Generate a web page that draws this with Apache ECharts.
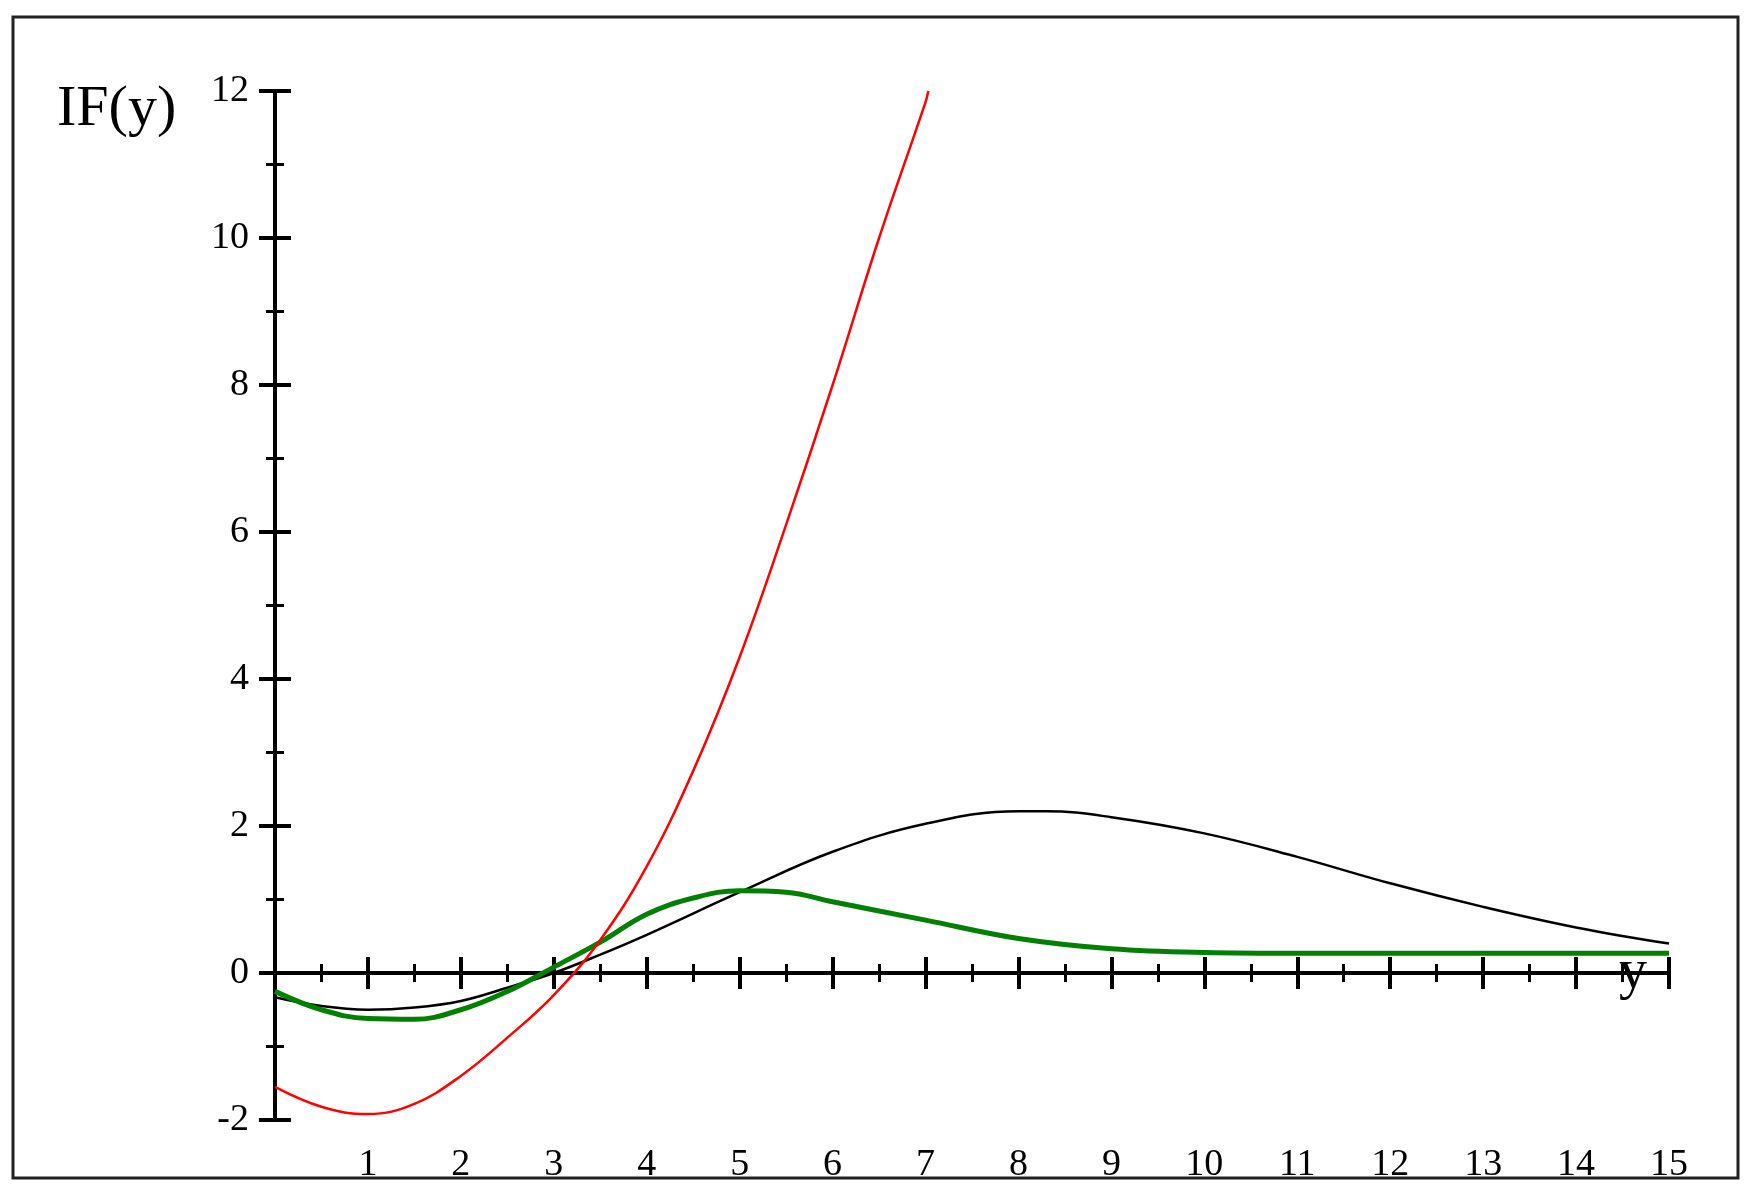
<!DOCTYPE html>
<html>
<head>
<meta charset="utf-8">
<script src="https://cdn.jsdelivr.net/npm/echarts@6/dist/echarts.min.js"></script>
<style>html,body{margin:0;padding:0;background:#fff}#chart{width:1753px;height:1196px}</style>
</head>
<body>
<div id="chart"></div>
<script>
// 读取自图像的曲线数据
const redX = [0, 0.5, 1, 1.5, 2, 2.5, 3, 3.5, 4, 4.5, 5, 5.5, 6, 6.5, 7, 7.03];
const redY = [-1.55, -1.82, -1.92, -1.78, -1.4, -0.88, -0.3, 0.45, 1.45, 2.75, 4.3, 6.1, 8.0, 10.0, 11.85, 12.0];
const blackX = [0, 0.5, 1, 1.5, 2, 2.5, 3, 3.5, 4, 5, 6, 7, 8, 8.3, 9, 10, 11, 12, 13, 14, 15];
const blackY = [-0.33, -0.45, -0.5, -0.47, -0.38, -0.2, 0, 0.25, 0.52, 1.1, 1.65, 2.03, 2.2, 2.2, 2.12, 1.9, 1.58, 1.22, 0.9, 0.62, 0.4];
const greenX = [0, 0.5, 1, 1.5, 2, 2.5, 3, 3.5, 4, 4.5, 5, 5.5, 6, 7, 8, 9, 10, 11, 12, 13, 14, 15];
const greenY = [-0.25, -0.5, -0.62, -0.63, -0.5, -0.25, 0.08, 0.42, 0.8, 1.02, 1.12, 1.1, 0.97, 0.72, 0.47, 0.33, 0.28, 0.27, 0.27, 0.27, 0.27, 0.27];

const font = 'Liberation Serif';
const pair = (xs, ys) => xs.map((x, i) => [x, ys[i]]);

const chart = echarts.init(document.getElementById('chart'));

const axisCommon = {
  axisLine: { onZero: true, lineStyle: { color: '#000', width: 4 } },
  splitLine: { show: false },
  minorSplitLine: { show: false }
};

chart.setOption({
  animation: false,
  graphic: [{
    type: 'rect',
    shape: { x: 13, y: 17, width: 1725, height: 1161 },
    style: { fill: 'none', stroke: '#222', lineWidth: 3 }
  }],
  grid: { left: 275, right: 84, top: 91, bottom: 76 },
  xAxis: [
    Object.assign({}, axisCommon, {
      type: 'value', min: 0, max: 15, interval: 1,
      name: 'y', nameLocation: 'end',
      nameGap: 0,
      nameTextStyle: { fontFamily: font, fontSize: 56, color: '#000', padding: [150, 0, 0, -50] },
      axisTick: { show: true, length: 16, lineStyle: { width: 4, color: '#000' } },
      minorTick: { show: true, splitNumber: 2, length: 9, lineStyle: { width: 3, color: '#000' } },
      axisLabel: {
        margin: 26, fontFamily: font, fontSize: 38, color: '#000',
        formatter: v => (v === 0 ? '' : String(v))
      }
    }),
    Object.assign({}, axisCommon, {
      type: 'value', min: 0, max: 15, interval: 1, position: 'bottom',
      axisLine: { onZero: true, lineStyle: { color: '#000', width: 4 } },
      axisTick: { show: true, inside: true, length: 16, lineStyle: { width: 4, color: '#000' } },
      minorTick: { show: true, splitNumber: 2, length: 9, lineStyle: { width: 3, color: '#000' } },
      axisLabel: { show: false }
    })
  ],
  yAxis: [
    Object.assign({}, axisCommon, {
      type: 'value', min: -2, max: 12, interval: 2,
      name: 'IF(y)', nameLocation: 'end', nameGap: 0,
      nameTextStyle: { fontFamily: font, fontSize: 58, color: '#000', align: 'left', verticalAlign: 'top', padding: [-10, 0, 0, -218] },
      axisTick: { show: true, length: 16, lineStyle: { width: 4, color: '#000' } },
      minorTick: { show: true, splitNumber: 2, length: 9, lineStyle: { width: 3, color: '#000' } },
      axisLabel: { margin: 26, fontFamily: font, fontSize: 38, color: '#000' }
    }),
    Object.assign({}, axisCommon, {
      type: 'value', min: -2, max: 12, interval: 2, position: 'left',
      axisTick: { show: true, inside: true, length: 16, lineStyle: { width: 4, color: '#000' } },
      minorTick: { show: true, splitNumber: 2, length: 9, lineStyle: { width: 3, color: '#000' } },
      axisLabel: { show: false }
    })
  ],
  series: [
    {
      type: 'line', data: pair(blackX, blackY), smooth: 0.4, symbol: 'none',
      lineStyle: { color: '#000', width: 2.5 }
    },
    {
      type: 'line', data: pair(greenX, greenY), smooth: 0.4, symbol: 'none',
      lineStyle: { color: '#008000', width: 5 }
    },
    {
      type: 'line', data: pair(redX, redY), smooth: 0.4, symbol: 'none',
      lineStyle: { color: '#ff0000', width: 2.5 }
    }
  ]
});
</script>
</body>
</html>
